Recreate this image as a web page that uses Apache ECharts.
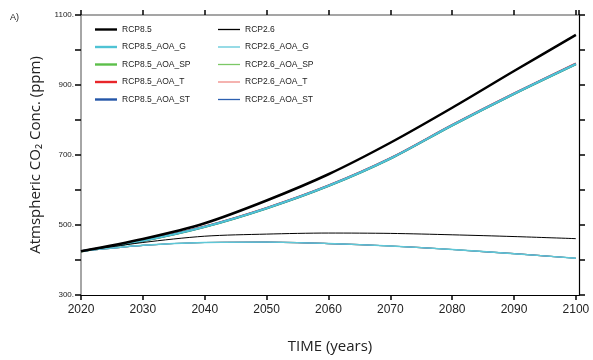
<!DOCTYPE html>
<html>
<head>
<meta charset="utf-8">
<script src="https://cdn.jsdelivr.net/npm/echarts@6/dist/echarts.min.js"></script>
<style>
  html, body { margin: 0; padding: 0; background: #fff; }
  #chart { width: 593px; height: 360px; }
</style>
</head>
<body>
<div id="chart"></div>
<script>
'use strict';

// years on the x axis (decadal points)
var years = [2020, 2030, 2040, 2050, 2060, 2070, 2080, 2090, 2100];

// RCP8.5 family (ppm)
var rcp85 = [425, 460, 505, 570, 645, 735, 835, 940, 1043];
var rcp85_G = [425, 455, 495, 548, 612, 690, 785, 875, 960];
var rcp85_SP = [424, 454, 494, 547, 611, 689, 784, 874, 959];
var rcp85_T = [425, 456, 496, 549, 613, 691, 786, 876, 962];
var rcp85_ST = [425, 455, 495, 548, 612, 690, 785, 875, 960];

// RCP2.6 family (ppm)
var rcp26 = [425, 450, 468, 474, 477, 476, 472, 467, 461];
var rcp26_G = [425, 442, 450, 451, 447, 440, 430, 418, 405];
var rcp26_SP = [425, 442, 450, 451, 447, 440, 430, 418, 405];
var rcp26_T = [425, 442, 450, 451, 447, 440, 430, 418, 405];
var rcp26_ST = [425, 442, 450, 451, 447, 440, 430, 418, 405];

var yTicks = [300, 500, 700, 900, 1100];

function pairs(vals) {
    return years.map(function (y, i) { return [y, vals[i]]; });
}

function line(name, vals, color, width, z) {
    return {
        name: name,
        type: 'line',
        data: pairs(vals),
        smooth: 0.3,
        symbol: 'none',
        z: z,
        lineStyle: { color: color, width: width },
        itemStyle: { color: color }
    };
}

var chart = echarts.init(document.getElementById('chart'));

var legendText = { fontSize: 8.5, color: '#222', fontFamily: 'Liberation Sans' };

var option = {
    animation: false,
    backgroundColor: '#fff',
    graphic: [{
        type: 'text', left: 10, top: 13,
        style: { text: 'A)', fontSize: 9, fill: '#222', fontFamily: 'Liberation Sans' }
    }],
    legend: [
        {
            left: 90, top: 20, orient: 'vertical', icon: 'rect',
            itemWidth: 22, itemHeight: 2.4, itemGap: 8.5,
            textStyle: legendText,
            data: ['RCP8.5', 'RCP8.5_AOA_G', 'RCP8.5_AOA_SP', 'RCP8.5_AOA_T', 'RCP8.5_AOA_ST']
        },
        {
            left: 213, top: 20, orient: 'vertical', icon: 'rect',
            itemWidth: 22, itemHeight: 1.3, itemGap: 8.5,
            textStyle: legendText,
            data: ['RCP2.6', 'RCP2.6_AOA_G', 'RCP2.6_AOA_SP', 'RCP2.6_AOA_T', 'RCP2.6_AOA_ST']
        }
    ],
    grid: { left: 81, right: 14, top: 15, bottom: 65 },
    xAxis: [
        {
            type: 'value', min: 2020, max: 2100.5, interval: 10,
            name: 'TIME (years)', nameLocation: 'middle', nameGap: 44,
            nameTextStyle: { fontSize: 15, color: '#222', fontFamily: 'Open Sans' },
            axisLine: { lineStyle: { color: '#000', width: 1.2 } },
            axisTick: { length: 5, lineStyle: { color: '#000', width: 1.5 } },
            axisLabel: {
                fontSize: 12, color: '#222', margin: 9, fontFamily: 'Liberation Sans',
                showMaxLabel: false,
                formatter: function (v) { return v % 10 === 0 ? String(v) : ''; }
            },
            splitLine: { show: false }
        },
        {
            type: 'value', position: 'top', min: 2020, max: 2100.5, interval: 10,
            axisLine: { lineStyle: { color: '#888', width: 1.5 } },
            axisTick: { length: 5, lineStyle: { color: '#000', width: 1.5 } },
            axisLabel: { show: false },
            splitLine: { show: false }
        }
    ],
    yAxis: [
        {
            type: 'value', min: 300, max: 1100, interval: 100,
            name: 'Atmspheric CO\u2082 Conc. (ppm)', nameLocation: 'middle', nameGap: 36,
            nameTextStyle: { fontSize: 15, color: '#222', fontFamily: 'Open Sans' },
            axisLine: { show: true, lineStyle: { color: '#888', width: 1.5 } },
            axisTick: { show: true, length: 6, lineStyle: { color: '#000', width: 1.5 } },
            axisLabel: {
                fontSize: 8, color: '#222', margin: 7, fontFamily: 'Liberation Sans',
                formatter: function (v) { return yTicks.indexOf(v) >= 0 ? v + '.' : ''; }
            },
            splitLine: { show: false }
        },
        {
            type: 'value', position: 'right', min: 300, max: 1100, interval: 100,
            axisLine: { show: true, lineStyle: { color: '#000', width: 1.2 } },
            axisTick: { show: true, length: 6, lineStyle: { color: '#000', width: 1.5 } },
            axisLabel: { show: false },
            splitLine: { show: false }
        }
    ],
    series: [
        line('RCP8.5', rcp85, '#000000', 2.5, 10),
        line('RCP8.5_AOA_SP', rcp85_SP, '#5cbf4a', 2, 3),
        line('RCP8.5_AOA_T', rcp85_T, '#e8262a', 2, 4),
        line('RCP8.5_AOA_ST', rcp85_ST, '#2456a8', 2, 5),
        line('RCP8.5_AOA_G', rcp85_G, '#4fc3d4', 2, 6),
        line('RCP2.6', rcp26, '#000000', 1, 9),
        line('RCP2.6_AOA_SP', rcp26_SP, '#7cc866', 1.2, 3),
        line('RCP2.6_AOA_T', rcp26_T, '#f08a86', 1.2, 4),
        line('RCP2.6_AOA_ST', rcp26_ST, '#2c5fb0', 1.2, 5),
        line('RCP2.6_AOA_G', rcp26_G, '#5fc8d8', 1.4, 6)
    ]
};

chart.setOption(option);
</script>
</body>
</html>
